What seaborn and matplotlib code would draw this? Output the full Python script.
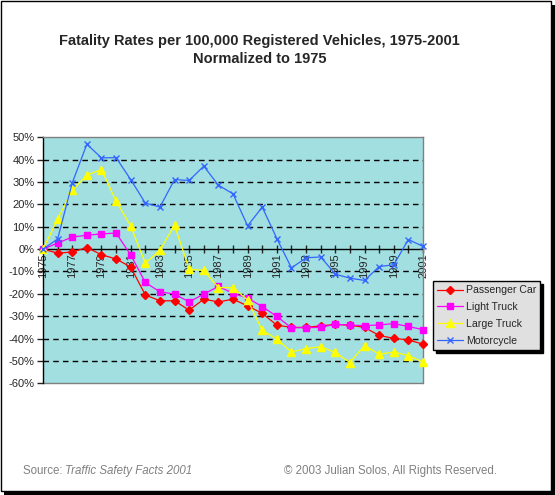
import numpy as np
import pandas as pd
import matplotlib
matplotlib.use("Agg")
import matplotlib.pyplot as plt
import matplotlib.ticker as mticker
from matplotlib.patches import Rectangle
import seaborn as sns

# Data (percent change vs. 1975)
years = list(range(1975, 2002))
passenger_car = [0, -1.8, -1.3, 0.7, -2.5, -4.4, -8.0, -20.5, -23.1, -23.1, -27.3, -22.4, -23.6,
                 -22.4, -25.4, -28.7, -34.0, -35.0, -35.0, -34.3, -33.7, -34.0, -35.0, -38.6,
                 -39.9, -40.6, -42.5]
light_truck = [0, 2.7, 5.4, 6.2, 6.8, 7.2, -2.6, -14.9, -19.1, -20.1, -23.6, -20.1, -16.7,
               -19.7, -21.9, -25.7, -30.1, -35.2, -35.1, -35.0, -33.6, -34.0, -34.2, -33.9,
               -33.3, -34.6, -36.0]
large_truck = [0, 13.4, 26.3, 33.1, 35.6, 21.5, 10.4, -6.3, -0.5, 10.7, -9.0, -9.5, -17.2,
               -17.2, -22.7, -36.3, -40.2, -46.0, -44.5, -43.6, -46.2, -50.7, -43.1, -47.0,
               -46.0, -47.6, -50.5]
motorcycle = [0, 4.5, 29.6, 46.9, 40.8, 40.9, 31.1, 20.6, 18.8, 31.1, 30.7, 37.1, 28.6,
              24.7, 10.4, 18.8, 4.7, -8.4, -3.9, -3.5, -11.2, -13.0, -14.0, -7.8, -7.0,
              4.3, 1.2]

series = {
    "Passenger Car": (passenger_car, "#FF0000", "D", 4.5),
    "Light Truck": (light_truck, "#FF00FF", "s", 5),
    "Large Truck": (large_truck, "#FFFF00", "^", 6),
    "Motorcycle": (motorcycle, "#3366FF", "x", 4.5),
}

sns.set_style("white")
plt.rcParams["font.family"] = ["Liberation Sans", "DejaVu Sans"]

fig = plt.figure(figsize=(5.55, 4.95), dpi=100)
ax = fig.add_axes([43 / 555, 1 - 383.3 / 495, 380 / 555, 246 / 495])
ax.set_facecolor("#A1DFE0")

for name, (vals, color, marker, ms) in series.items():
    df = pd.DataFrame({"Year": years, "Change": vals})
    sns.lineplot(data=df, x="Year", y="Change", ax=ax, color=color, marker=marker,
                 markersize=ms, markeredgecolor=color, markeredgewidth=1, linewidth=0.9,
                 label=name, clip_on=False, zorder=3)

ax.set_xlim(1975, 2001)
ax.set_ylim(-60, 50)
ax.set_xlabel("")
ax.set_ylabel("")

# y axis
ax.yaxis.set_major_locator(mticker.MultipleLocator(10))
ax.yaxis.set_major_formatter(mticker.FuncFormatter(lambda v, p: f"{int(round(v))}%"))
ax.tick_params(axis="y", labelsize=8, length=4, direction="out", left=True, width=1, pad=2)
for g in range(-50, 50, 10):
    if g != 0:
        ax.axhline(g, color="black", lw=1, ls=(0, (4, 3)), zorder=1)

# x axis crossing at zero
ax.spines["bottom"].set_position(("data", 0))
ax.spines["bottom"].set_color("black")
ax.spines["bottom"].set_linewidth(1)
ax.spines["bottom"].set_zorder(2)
ax.spines["left"].set_color("black")
ax.spines["left"].set_linewidth(1)
for s in ["top", "right"]:
    ax.spines[s].set_color("#808080")
    ax.spines[s].set_linewidth(1)
ax.add_patch(Rectangle((0, 0), 1, 0.0001, transform=ax.transAxes, facecolor="none",
                       edgecolor="#808080", lw=1, clip_on=False))
ax.set_xticks(years)
ax.set_xticklabels([str(y) if (y - 1975) % 2 == 0 else "" for y in years], rotation=90,
                   fontsize=8, va="top")
ax.tick_params(axis="x", bottom=True, direction="inout", length=6, width=1, pad=0)

# legend
leg = ax.legend(loc="upper left", bbox_to_anchor=(433 / 555, 1 - 281 / 495),
                bbox_transform=fig.transFigure, fontsize=7.6, frameon=True, fancybox=False,
                shadow={"color": "black", "alpha": 1}, borderpad=0.4, labelspacing=0.65,
                handlelength=2.4, handletextpad=0.3, borderaxespad=0)
leg.get_frame().set_facecolor("#E0E0E0")
leg.get_frame().set_edgecolor("black")
leg.get_frame().set_linewidth(1)

# titles and footer
fig.text(0.468, 1 - 50 / 495, "Fatality Rates per 100,000 Registered Vehicles, 1975-2001\nNormalized to 1975",
         ha="center", va="center", fontsize=10.5, fontweight="bold", linespacing=1.45)
fig.text(23 / 555, 1 - 471 / 495, "Source: ", ha="left", va="center", fontsize=8.3, color="#808080")
fig.text(65 / 555, 1 - 471 / 495, "Traffic Safety Facts 2001", ha="left", va="center",
         fontsize=8.3, color="#808080", style="italic")
fig.text(497 / 555, 1 - 471 / 495, "\u00a9 2003 Julian Solos, All Rights Reserved.", ha="right",
         va="center", fontsize=8.3, color="#808080")

# outer frame with shadow
fig.patches.append(Rectangle((1 / 555, 1 - 491 / 495), 550 / 555, 490 / 495, transform=fig.transFigure,
                             facecolor="none", edgecolor="black", lw=1))
fig.patches.append(Rectangle((551 / 555, 0), 4 / 555, 490 / 495, transform=fig.transFigure,
                             facecolor="black", edgecolor="none"))
fig.patches.append(Rectangle((4 / 555, 0), 551 / 555, 4 / 495, transform=fig.transFigure,
                             facecolor="black", edgecolor="none"))

fig.savefig("out.png", dpi=100)
